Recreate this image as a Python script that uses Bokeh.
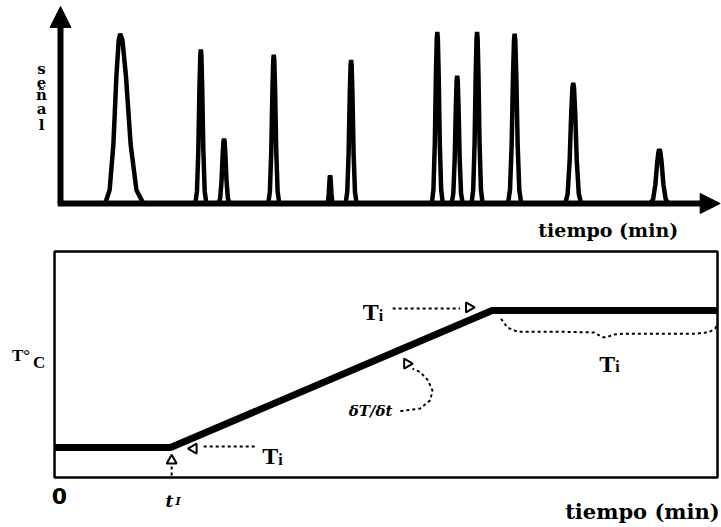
import math
from bokeh.plotting import figure
from bokeh.layouts import column
from bokeh.models import Range1d, Arrow, NormalHead
from bokeh.core.properties import value
from bokeh.embed import file_html
from bokeh.resources import INLINE

# ---------------- top panel: chromatogram ----------------
PEAK_TIMES = [5.4, 12.7, 14.8, 19.3, 24.4, 26.3, 34.1, 35.9, 37.7, 41.1, 46.4, 54.2]
PEAK_HEIGHTS = [97, 88, 37, 85, 16, 82, 98, 73, 98, 97, 69, 31]
PEAK_HALF_LEFT = [1.36, 0.5, 0.5, 0.5, 0.27, 0.5, 0.5, 0.5, 0.5, 0.6, 0.72, 0.81]
PEAK_HALF_RIGHT = [2.1, 0.5, 0.5, 0.5, 0.27, 0.5, 0.5, 0.5, 0.5, 0.6, 0.72, 0.81]
PROFILE_X = [-1, -0.7, -0.45, -0.25, -0.1, 0, 0.1, 0.25, 0.45, 0.7, 1]
PROFILE_Y = [0, 0.08, 0.35, 0.75, 0.96, 1, 0.96, 0.75, 0.35, 0.08, 0]
TIME_AXIS_END = 59.7
SIGNAL_AXIS_END = 112.6
SIGNAL_LABEL = ["s", "e", "ñ", "a", "l"]
SIGNAL_LABEL_Y = [77, 69, 62, 54, 45]
X_LABEL = "tiempo (min)"

# ---------------- bottom panel: temperature program ----------------
PROG_TIME = [0, 10.5, 39.6, 60.0]
PROG_TEMP = [50, 50, 250, 250]
BOX_TIME = [0, 60.0]
BOX_TEMP = [6.2, 336.2]
BRACE_T = [40.4, 41.0, 41.9, 45.8, 48.8, 49.6, 50.0, 50.6, 51.5, 57.8, 59.2, 59.8, 60.0]
BRACE_TEMP = [238, 225, 219, 219, 218, 211, 211, 215, 216, 216, 218, 224, 231]
SLOPE_T = [31.3, 33.1, 34.0, 34.2, 33.8, 33.1, 32.4]
SLOPE_TEMP = [103, 107, 119, 133, 148, 160, 165]

W = 721
H1 = 245
H2 = 282

FONT_B = value("DejaVu Serif")
FONT_T = value("Liberation Serif")


def base_fig(h, xr, yr):
    p = figure(width=W, height=h, output_backend="svg", toolbar_location=None,
               x_range=Range1d(*xr), y_range=Range1d(*yr), min_border=0)
    p.axis.visible = False
    p.grid.visible = False
    p.outline_line_color = None
    p.background_fill_color = "white"
    p.border_fill_color = "white"
    return p


def txt(p, x, y, s, size, font=FONT_B, style="bold", align="left", base="alphabetic"):
    p.text(x=[x], y=[y], text=[s], text_font=font, text_font_style=style,
           text_font_size=size, text_align=align, text_baseline=base,
           text_color="black")


# ---- top
p1 = base_fig(H1, (-5.43, 59.82), (-24.0, 116.0))
xs, ys = [], []
for t, h, wl, wr in zip(PEAK_TIMES, PEAK_HEIGHTS, PEAK_HALF_LEFT, PEAK_HALF_RIGHT):
    xs.append([t + (px * wl if px < 0 else px * wr) for px in PROFILE_X])
    ys.append([h * py for py in PROFILE_Y])
p1.multi_line(xs=xs, ys=ys, line_color="black", line_width=4.5)

p1.add_layout(Arrow(end=NormalHead(size=20, fill_color="black", line_color="black"),
                    x_start=-0.25, y_start=0, x_end=TIME_AXIS_END, y_end=0,
                    line_width=6, line_color="black"))
p1.add_layout(Arrow(end=NormalHead(size=21, fill_color="black", line_color="black"),
                    x_start=0, y_start=0, x_end=0, y_end=SIGNAL_AXIS_END,
                    line_width=6, line_color="black"))
for ch, yy in zip(SIGNAL_LABEL, SIGNAL_LABEL_Y):
    txt(p1, -1.72, yy, ch, "15px", align="center", base="middle")
txt(p1, 55.9, -14.9, X_LABEL, "19px", align="right", base="middle")

# ---- bottom
p2 = base_fig(H2, (-4.89, 60.36), (-66.8, 344.9))
p2.quad(left=[BOX_TIME[0]], right=[BOX_TIME[1]], bottom=[BOX_TEMP[0]], top=[BOX_TEMP[1]],
        fill_color=None, line_color="black", line_width=2.5)
p2.line(PROG_TIME, PROG_TEMP, line_color="black", line_width=7)

dash = dict(line_color="black", line_width=2, line_dash="3 3")
# T_i at start of ramp
p2.line([13.5, 18.2], [51.5, 51.5], **dash)
p2.scatter([12.6], [48.5], marker="triangle", size=10, angle=math.pi / 2,
           fill_color="white", line_color="black", line_width=2)
txt(p2, 18.8, 36.9, "T", "24px", font=FONT_T)
txt(p2, 20.25, 32.5, "i", "16px", font=FONT_T)
# t_1 marker
p2.line([10.6, 10.6], [22.3, 6.2], **dash)
p2.scatter([10.6], [31], marker="triangle", size=10,
           fill_color="white", line_color="black", line_width=2)
txt(p2, 10.4, -28.8, "t", "17px", style="bold italic", align="center")
txt(p2, 10.95, -28.8, "I", "11px", style="bold italic")
# zero
txt(p2, 0.45, -21.5, "0", "22px", font=value("DejaVu Sans"), align="center", base="middle")
# T°C
txt(p2, -3.85, 184.3, "T°", "17px", font=FONT_T)
txt(p2, -1.95, 174.1, "C", "17px", font=FONT_T)
# T_i at end of ramp
p2.line([30.6, 36.7], [252.9, 252.9], **dash)
p2.scatter([37.5], [254.4], marker="triangle", size=10, angle=-math.pi / 2,
           fill_color="white", line_color="black", line_width=2)
txt(p2, 27.9, 247.1, "T", "24px", font=FONT_T)
txt(p2, 29.35, 242.7, "i", "16px", font=FONT_T)
# slope
p2.scatter([31.9], [172.6], marker="triangle", size=10, angle=-math.pi / 2,
           fill_color="white", line_color="black", line_width=2)
p2.line(SLOPE_T, SLOPE_TEMP, **dash)
txt(p2, 28.6, 104, "δT/δt", "15px", style="bold italic", align="center", base="middle")
# plateau brace
p2.line(BRACE_T, BRACE_TEMP, **dash)
txt(p2, 49.3, 172.5, "T", "24px", font=FONT_T)
txt(p2, 50.75, 168.1, "i", "16px", font=FONT_T)
# x label
txt(p2, 60.2, -44.0, X_LABEL, "21px", align="right", base="middle")

layout = column(p1, p2, spacing=0)
open("out.html", "w").write(file_html(layout, INLINE))
